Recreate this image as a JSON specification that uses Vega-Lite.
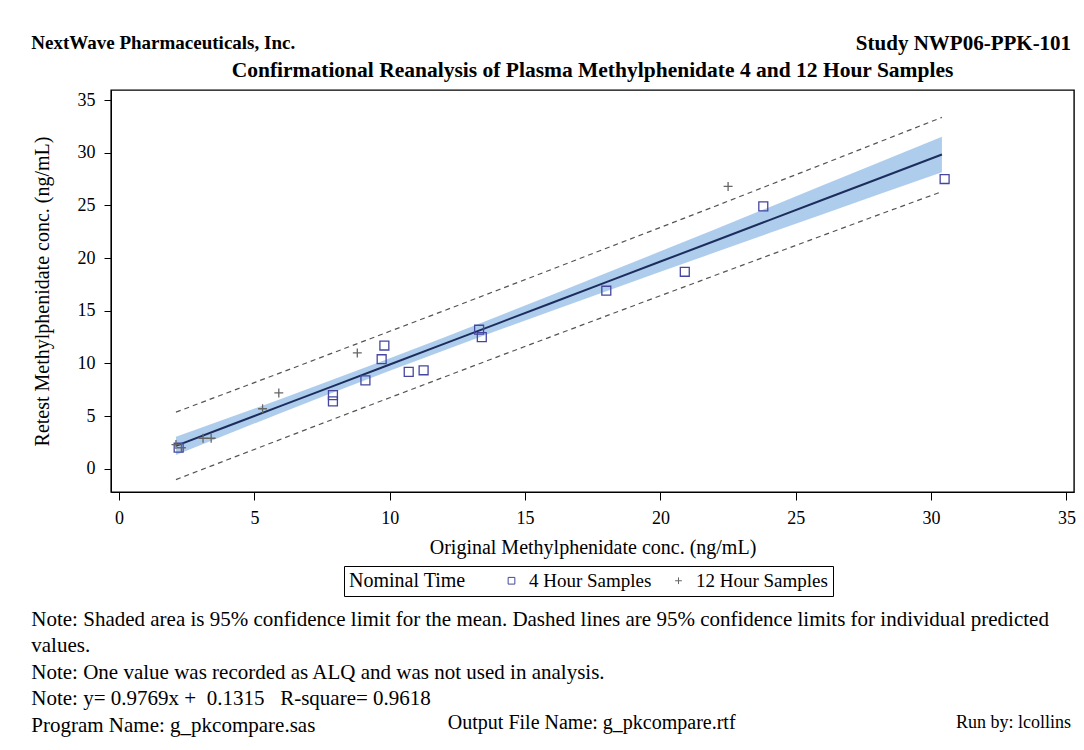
{
  "$schema": "https://vega.github.io/schema/vega-lite/v6.json",
  "padding": {"left": 31, "top": 32, "right": 6, "bottom": 8},
  "background": "white",
  "datasets": {
    "pts": [
      {"orig": 2.2, "retest": 2.0, "time": "4 Hour Samples"},
      {"orig": 7.9, "retest": 7.0, "time": "4 Hour Samples"},
      {"orig": 7.9, "retest": 6.4, "time": "4 Hour Samples"},
      {"orig": 9.1, "retest": 8.4, "time": "4 Hour Samples"},
      {"orig": 9.7, "retest": 10.4, "time": "4 Hour Samples"},
      {"orig": 9.8, "retest": 11.7, "time": "4 Hour Samples"},
      {"orig": 10.7, "retest": 9.2, "time": "4 Hour Samples"},
      {"orig": 11.25, "retest": 9.35, "time": "4 Hour Samples"},
      {"orig": 13.3, "retest": 13.2, "time": "4 Hour Samples"},
      {"orig": 13.4, "retest": 12.5, "time": "4 Hour Samples"},
      {"orig": 18.0, "retest": 16.9, "time": "4 Hour Samples"},
      {"orig": 20.9, "retest": 18.7, "time": "4 Hour Samples"},
      {"orig": 23.8, "retest": 24.9, "time": "4 Hour Samples"},
      {"orig": 30.5, "retest": 27.5, "time": "4 Hour Samples"},
      {"orig": 2.1, "retest": 2.3, "time": "12 Hour Samples"},
      {"orig": 2.3, "retest": 2.0, "time": "12 Hour Samples"},
      {"orig": 3.1, "retest": 2.9, "time": "12 Hour Samples"},
      {"orig": 3.4, "retest": 2.9, "time": "12 Hour Samples"},
      {"orig": 5.3, "retest": 5.7, "time": "12 Hour Samples"},
      {"orig": 5.9, "retest": 7.2, "time": "12 Hour Samples"},
      {"orig": 8.8, "retest": 11.0, "time": "12 Hour Samples"},
      {"orig": 22.5, "retest": 26.8, "time": "12 Hour Samples"}
    ],
    "fit": [
      {"x": 2.1, "fit": 2.183, "lclm": 1.32, "uclm": 3.04, "lcli": -1.02, "ucli": 5.38},
      {"x": 4, "fit": 4.039, "lclm": 3.29, "uclm": 4.79, "lcli": 0.86, "ucli": 7.22},
      {"x": 6, "fit": 5.993, "lclm": 5.32, "uclm": 6.66, "lcli": 2.83, "ucli": 9.15},
      {"x": 8, "fit": 7.947, "lclm": 7.34, "uclm": 8.56, "lcli": 4.8, "ucli": 11.1},
      {"x": 10, "fit": 9.9, "lclm": 9.31, "uclm": 10.49, "lcli": 6.75, "ucli": 13.05},
      {"x": 12, "fit": 11.854, "lclm": 11.24, "uclm": 12.46, "lcli": 8.7, "ucli": 15.0},
      {"x": 14, "fit": 13.808, "lclm": 13.14, "uclm": 14.48, "lcli": 10.65, "ucli": 16.97},
      {"x": 16, "fit": 15.762, "lclm": 15.01, "uclm": 16.51, "lcli": 12.58, "ucli": 18.94},
      {"x": 18, "fit": 17.716, "lclm": 16.86, "uclm": 18.58, "lcli": 14.51, "ucli": 20.93},
      {"x": 20, "fit": 19.67, "lclm": 18.7, "uclm": 20.64, "lcli": 16.43, "ucli": 22.91},
      {"x": 22, "fit": 21.623, "lclm": 20.52, "uclm": 22.72, "lcli": 18.34, "ucli": 24.9},
      {"x": 24, "fit": 23.577, "lclm": 22.35, "uclm": 24.81, "lcli": 20.25, "ucli": 26.91},
      {"x": 26, "fit": 25.531, "lclm": 24.16, "uclm": 26.9, "lcli": 22.15, "ucli": 28.91},
      {"x": 28, "fit": 27.485, "lclm": 25.98, "uclm": 28.99, "lcli": 24.05, "ucli": 30.93},
      {"x": 30.4, "fit": 29.83, "lclm": 28.14, "uclm": 31.52, "lcli": 26.31, "ucli": 33.35}
    ]
  },
  "title": {"text": "Run by: lcollins", "orient": "bottom", "anchor": "end", "frame": "bounds", "fontSize": 18, "fontWeight": "normal", "offset": 0, "dy": -22, "dx": -5},
  "vconcat": [
    {
      "title": {"text": "Output File Name: g_pkcompare.rtf", "orient": "bottom", "anchor": "middle", "frame": "bounds", "fontSize": 20, "fontWeight": "normal", "offset": 0, "dy": -23, "dx": 38},
      "vconcat": [
        {
          "title": {
            "text": [
              "Note: Shaded area is 95% confidence limit for the mean. Dashed lines are 95% confidence limits for individual predicted",
              "values.",
              "Note: One value was recorded as ALQ and was not used in analysis.",
              "Note: y= 0.9769x + \u00a00.1315 \u00a0\u00a0R-square= 0.9618",
              "Program Name: g_pkcompare.sas"
            ],
            "orient": "bottom", "anchor": "start", "frame": "bounds", "fontSize": 21, "fontWeight": "normal", "lineHeight": 26.5, "offset": 51
          },
          "vconcat": [
            {
              "title": {"text": "NextWave Pharmaceuticals, Inc.", "anchor": "start", "frame": "bounds", "fontSize": 19, "fontWeight": "bold", "offset": 0, "dy": 20},
              "vconcat": [
                {
                  "title": {"text": "Study NWP06-PPK-101", "anchor": "end", "frame": "bounds", "fontSize": 21, "fontWeight": "bold", "offset": 5, "dx": -5},
                  "vconcat": [
                    {
                      "title": {"text": "Confirmational Reanalysis of Plasma Methylphenidate 4 and 12 Hour Samples", "anchor": "middle", "frame": "group", "fontSize": 21.5, "fontWeight": "bold", "offset": 9},
                      "width": 963,
                      "height": 402,
                      "layer": [
                        {
                          "data": {"name": "fit"},
                          "mark": {"type": "area", "color": "#a0c4ea", "opacity": 0.85},
                          "encoding": {
                            "x": {"field": "x", "type": "quantitative",
                              "scale": {"domain": [-0.3, 35.28], "nice": false, "zero": false},
                              "axis": {"title": "Original Methylphenidate conc. (ng/mL)", "values": [0, 5, 10, 15, 20, 25, 30, 35], "tickSize": 8, "labelPadding": 9, "titlePadding": 10}},
                            "y": {"field": "lclm", "type": "quantitative",
                              "scale": {"domain": [-2.2, 35.95], "nice": false, "zero": false},
                              "axis": {"title": "Retest Methylphenidate conc. (ng/mL)", "values": [0, 5, 10, 15, 20, 25, 30, 35], "tickSize": 7, "labelPadding": 9, "titlePadding": 25}},
                            "y2": {"field": "uclm"}
                          }
                        },
                        {
                          "data": {"name": "fit"},
                          "mark": {"type": "line", "color": "#555555", "strokeDash": [5, 4], "strokeWidth": 1.2},
                          "encoding": {
                            "x": {"field": "x", "type": "quantitative"},
                            "y": {"field": "ucli", "type": "quantitative"}
                          }
                        },
                        {
                          "data": {"name": "fit"},
                          "mark": {"type": "line", "color": "#555555", "strokeDash": [5, 4], "strokeWidth": 1.2},
                          "encoding": {
                            "x": {"field": "x", "type": "quantitative"},
                            "y": {"field": "lcli", "type": "quantitative"}
                          }
                        },
                        {
                          "data": {"name": "fit"},
                          "mark": {"type": "line", "color": "#1c2d5c", "strokeWidth": 2},
                          "encoding": {
                            "x": {"field": "x", "type": "quantitative"},
                            "y": {"field": "fit", "type": "quantitative"}
                          }
                        },
                        {
                          "data": {"name": "pts"},
                          "mark": {"type": "point", "filled": false, "strokeWidth": 1.3, "opacity": 1},
                          "encoding": {
                            "x": {"field": "orig", "type": "quantitative"},
                            "y": {"field": "retest", "type": "quantitative"},
                            "shape": {"field": "time", "type": "nominal",
                              "scale": {"domain": ["4 Hour Samples", "12 Hour Samples"], "range": ["square", "M-1,0L1,0M0,-1L0,1"]},
                              "legend": {"title": "Nominal Time"}},
                            "color": {"field": "time", "type": "nominal",
                              "scale": {"domain": ["4 Hour Samples", "12 Hour Samples"], "range": ["#4646a0", "#666666"]},
                              "legend": {"title": "Nominal Time"}},
                            "size": {"value": 80}
                          }
                        }
                      ]
                    }
                  ]
                }
              ]
            }
          ]
        }
      ]
    }
  ],
  "config": {
    "font": "Liberation Serif",
    "view": {"stroke": "black", "strokeWidth": 1.4},
    "title": {"font": "Liberation Serif", "color": "black"},
    "axis": {
      "grid": false,
      "domainColor": "black",
      "tickColor": "black",
      "labelColor": "black",
      "labelFont": "Liberation Serif",
      "labelFontSize": 18,
      "titleFont": "Liberation Serif",
      "titleFontSize": 20,
      "titleFontWeight": "normal",
      "titleColor": "black"
    },
    "legend": {
      "orient": "none",
      "legendX": 233,
      "legendY": 476,
      "direction": "horizontal",
      "titleOrient": "left",
      "strokeColor": "black",
      "padding": 5,
      "titleFont": "Liberation Serif",
      "titleFontSize": 20,
      "titleFontWeight": "normal",
      "titleColor": "black",
      "titlePadding": 36,
      "labelFont": "Liberation Serif",
      "labelFontSize": 19,
      "labelColor": "black",
      "symbolSize": 45,
      "symbolStrokeWidth": 1,
      "columnPadding": 17,
      "labelOffset": 8
    }
  }
}
